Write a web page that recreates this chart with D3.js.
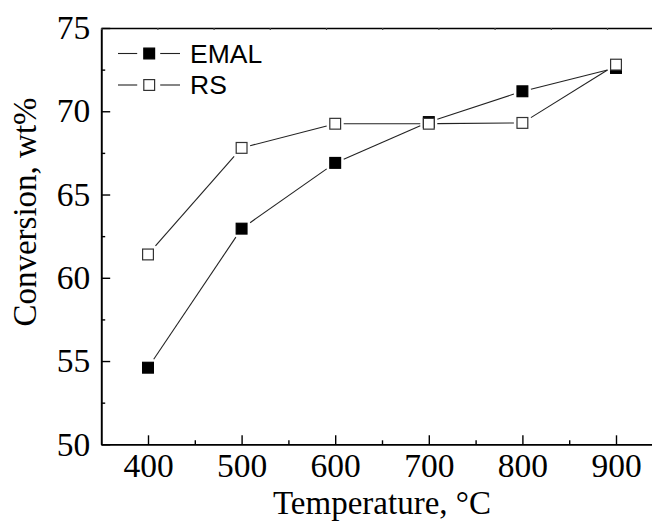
<!DOCTYPE html>
<html>
<head>
<meta charset="utf-8">
<script src="https://cdn.jsdelivr.net/npm/d3@7"></script>
<style>
  html, body { margin: 0; padding: 0; background: #fff; }
  svg { display: block; overflow: hidden; }
</style>
</head>
<body>
<script>
// ---- data ----
const temperatures = [400, 500, 600, 700, 800, 900];
const emal = [54.6, 62.95, 66.9, 69.35, 71.2, 72.6];
const rs = [61.4, 67.8, 69.25, 69.25, 69.3, 72.8];
const seriesNames = ["EMAL", "RS"];
const xMajorTicks = [400, 500, 600, 700, 800, 900];
const xMinorTicks = [450, 550, 650, 750, 850, 950];
const yMajorTicks = [50, 55, 60, 65, 70, 75];
const yMinorTicks = [52.5, 57.5, 62.5, 67.5, 72.5];
const xTitle = "Temperature, \u00B0C";
const yTitle = "Conversion, wt%";

// ---- layout ----
const W = 652, H = 522;
const pLeft = 101.2, pRight = 662.8, pTop = 28, pBottom = 444.3;
const serif = "'Liberation Serif', 'Times New Roman', serif";
const sans = "'Liberation Sans', Arial, sans-serif";

const svg = d3.select("body").append("svg")
  .attr("width", W).attr("height", H);

const x = d3.scaleLinear().domain([350, 950]).range([pLeft, pRight]);
const y = d3.scaleLinear().domain([50, 75]).range([pBottom, pTop]);
const xTop = d3.scaleLinear().domain([0, (pRight - pLeft) / 56.2]).range([pLeft, pRight]);

function styleAxis(g) {
  g.select(".domain").attr("stroke", "#000").attr("stroke-width", 1.6);
  g.selectAll(".tick line").attr("stroke", "#000").attr("stroke-width", 1.4);
  g.selectAll(".tick text").attr("fill", "#000")
    .style("font-family", serif).style("font-size", "33.5px");
}

// bottom axis
const gxMinor = svg.append("g").attr("transform", `translate(0,${pBottom})`)
  .call(d3.axisBottom(x).tickValues(xMinorTicks).tickSize(-4).tickSizeOuter(0).tickFormat(""));
styleAxis(gxMinor);
const gx = svg.append("g").attr("transform", `translate(0,${pBottom})`)
  .call(d3.axisBottom(x).tickValues(xMajorTicks).tickSize(-9).tickSizeOuter(0).tickPadding(9).tickFormat(d3.format("d")));
styleAxis(gx);

// left axis
const gyMinor = svg.append("g").attr("transform", `translate(${pLeft},0)`)
  .call(d3.axisLeft(y).tickValues(yMinorTicks).tickSize(-4).tickSizeOuter(0).tickFormat(""));
styleAxis(gyMinor);
const gy = svg.append("g").attr("transform", `translate(${pLeft},0)`)
  .call(d3.axisLeft(y).tickValues(yMajorTicks).tickSize(-9).tickSizeOuter(0).tickPadding(11).tickFormat(d3.format("d")));
styleAxis(gy);

// top axis (tiny ticks)
const gt = svg.append("g").attr("transform", `translate(0,${pTop})`)
  .call(d3.axisTop(xTop).ticks(10).tickSize(-2).tickSizeOuter(0).tickFormat(""));
styleAxis(gt);
gt.selectAll(".tick line").attr("stroke-width", 1.2).attr("stroke", "#444");

// right axis (beyond the visible area)
svg.append("line").attr("x1", pRight).attr("x2", pRight).attr("y1", pTop).attr("y2", pBottom)
  .attr("stroke", "#000").attr("stroke-width", 1.6);

// ---- series ----
const half = 6, gap = 2.5;
function drawSeries(values, filled) {
  const pts = temperatures.map((t, i) => [x(t), y(values[i])]);
  const segs = d3.pairs(pts);
  svg.append("g").selectAll("line").data(segs).join("line")
    .each(function ([a, b]) {
      const dx = b[0] - a[0], dy = b[1] - a[1];
      const len = Math.hypot(dx, dy);
      const ux = dx / len, uy = dy / len;
      const cut = (half + gap) / Math.max(Math.abs(ux), Math.abs(uy));
      d3.select(this)
        .attr("x1", a[0] + ux * cut).attr("y1", a[1] + uy * cut)
        .attr("x2", b[0] - ux * cut).attr("y2", b[1] - uy * cut);
    })
    .attr("stroke", "#222").attr("stroke-width", 1.1);
  svg.append("g").selectAll("rect").data(pts).join("rect")
    .attr("x", d => d[0] - half + 0.6).attr("y", d => d[1] - half + 0.6)
    .attr("width", 2 * half - 1.2).attr("height", 2 * half - 1.2)
    .attr("fill", filled ? "#000" : "#fff")
    .attr("stroke", filled ? "#000" : "#333")
    .attr("stroke-width", 1.2);
}
drawSeries(emal, true);
drawSeries(rs, false);

// ---- legend ----
const legend = svg.append("g");
seriesNames.forEach((name, i) => {
  const ly = 53.5 + i * 31.5;
  const cx = 149.2;
  legend.append("line").attr("x1", 118).attr("x2", cx - 12).attr("y1", ly).attr("y2", ly)
    .attr("stroke", "#222").attr("stroke-width", 1.1);
  legend.append("line").attr("x1", cx + 11).attr("x2", 180).attr("y1", ly).attr("y2", ly)
    .attr("stroke", "#222").attr("stroke-width", 1.1);
  legend.append("rect")
    .attr("x", cx - half + 0.6).attr("y", ly - half + 0.6)
    .attr("width", 2 * half - 1.2).attr("height", 2 * half - 1.2)
    .attr("fill", i === 0 ? "#000" : "#fff")
    .attr("stroke", i === 0 ? "#000" : "#333").attr("stroke-width", 1.2);
  legend.append("text").attr("x", 190).attr("y", ly + 9.4)
    .style("font-family", sans).style("font-size", "26.5px").attr("fill", "#000")
    .text(name);
});

// ---- axis titles ----
svg.append("text").attr("x", (pLeft + pRight) / 2).attr("y", 514)
  .attr("text-anchor", "middle")
  .style("font-family", serif).style("font-size", "33px").attr("fill", "#000")
  .text(xTitle);
svg.append("text").attr("transform", "translate(36,212) rotate(-90)")
  .attr("text-anchor", "middle")
  .style("font-family", serif).style("font-size", "33px").attr("fill", "#000")
  .text(yTitle);
</script>
</body>
</html>
